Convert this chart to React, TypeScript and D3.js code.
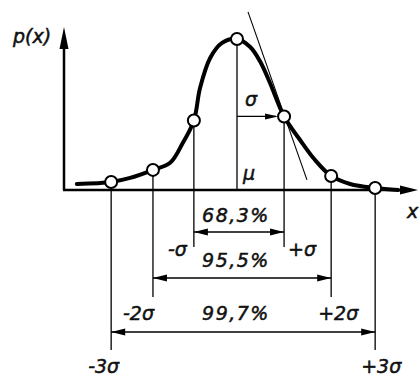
import * as d3 from "d3";

// curve samples (x in sigma units, y relative to peak)
const curveX = [-3.64, -2.86, -2.43, -1.91, -1.52, -1.23, -0.98, -0.84, -0.61, -0.34, 0, 0.3, 0.52, 0.75, 1.07, 1.43, 1.77, 2.14, 2.57, 3.14, 3.66];
const curveY = [0.04, 0.053, 0.08, 0.133, 0.18, 0.313, 0.46, 0.675, 0.874, 0.974, 1.0, 0.947, 0.854, 0.709, 0.487, 0.333, 0.2, 0.093, 0.04, 0.013, 0];

// marked points: -3σ .. +3σ
const pointX = [-2.86, -1.91, -0.98, 0, 1.07, 2.14, 3.14];
const pointY = [0.053, 0.133, 0.46, 1.0, 0.487, 0.093, 0.013];

const bandLabels = ["68,3%", "95,5%", "99,7%"];
const leftLabels = ["-σ", "-2σ", "-3σ"];
const rightLabels = ["+σ", "+2σ", "+3σ"];

// tangent at +σ (ends)
const tangentX = [0.25, 1.59];
const tangentY = [1.18, 0.067];

const W = 419;
const H = 378;
const axisX = 64;
const axisY = 190;
const font = "'DejaVu Sans', sans-serif";

const x = d3.scaleLinear().domain([-3, 3]).range([105, 369]);
const y = d3.scaleLinear().domain([0, 1]).range([axisY, 39]);

const arrowHead = (tx: number, ty: number, dir: "l" | "r" | "u", len = 14, hw = 3.5) => {
  if (dir === "r") return `${tx},${ty} ${tx - len},${ty - hw} ${tx - len},${ty + hw}`;
  if (dir === "l") return `${tx},${ty} ${tx + len},${ty - hw} ${tx + len},${ty + hw}`;
  return `${tx},${ty} ${tx - hw},${ty + len} ${tx + hw},${ty + len}`;
};

const Label = (p: { x: number; y: number; anchor?: string; spacing?: number; children: string }) => (
  <text
    x={p.x}
    y={p.y}
    textAnchor={p.anchor || "start"}
    fontFamily={font}
    fontStyle="italic"
    fontSize={19}
    letterSpacing={p.spacing || 0}
    fill="#111"
    stroke="#111"
    strokeWidth={0.5}
  >
    {p.children}
  </text>
);

export default function App() {
  const pts = curveX.map((v, i) => [x(v), y(curveY[i])] as [number, number]);
  const path = d3.line().curve(d3.curveCatmullRom.alpha(0.5))(pts) || "";

  const rows = [
    { y: 232, ext: 247, li: 2, ri: 4, labelY: 222 },
    { y: 278, ext: 297, li: 1, ri: 5, labelY: 267 },
    { y: 332, ext: 350, li: 0, ri: 6, labelY: 320 },
  ];

  const mx = x(0);
  const sx = x(pointX[4]);
  const sy = y(pointY[4]);

  return (
    <svg width={W} height={H} style={{ position: "absolute", left: 0, top: 0, background: "#fff" }}>
      {/* axes */}
      <line x1={axisX} y1={axisY} x2={axisX} y2={45} stroke="#000" strokeWidth={2.5} />
      <polygon points={arrowHead(axisX, 27, "u", 22, 4.5)} fill="#000" />
      <line x1={axisX - 1} y1={axisY} x2={405} y2={axisY} stroke="#000" strokeWidth={2.5} />
      <polygon points={arrowHead(418, axisY, "r", 18, 4.5)} fill="#000" />

      {/* extension lines */}
      <line x1={mx} y1={y(1)} x2={mx} y2={axisY} stroke="#000" strokeWidth={1.3} />
      {rows.map((r, i) => (
        <g key={"ext" + i}>
          <line x1={x(pointX[r.li])} y1={y(pointY[r.li])} x2={x(pointX[r.li])} y2={r.ext} stroke="#000" strokeWidth={1.3} />
          <line x1={x(pointX[r.ri])} y1={y(pointY[r.ri])} x2={x(pointX[r.ri])} y2={r.ext} stroke="#000" strokeWidth={1.3} />
        </g>
      ))}

      {/* tangent */}
      <line x1={x(tangentX[0])} y1={y(tangentY[0])} x2={x(tangentX[1])} y2={y(tangentY[1])} stroke="#000" strokeWidth={1.1} />

      {/* sigma arrow */}
      <line x1={mx} y1={sy} x2={sx - 8} y2={sy} stroke="#000" strokeWidth={1.3} />
      <polygon points={arrowHead(sx - 6, sy, "r", 13, 3)} fill="#000" />

      {/* curve */}
      <path d={path} fill="none" stroke="#000" strokeWidth={4} strokeLinejoin="round" strokeLinecap="round" />

      {/* dimension lines */}
      {rows.map((r, i) => {
        const x1 = x(pointX[r.li]);
        const x2 = x(pointX[r.ri]);
        return (
          <g key={"dim" + i}>
            <line x1={x1} y1={r.y} x2={x2} y2={r.y} stroke="#000" strokeWidth={1.3} />
            <polygon points={arrowHead(x1, r.y, "l")} fill="#000" />
            <polygon points={arrowHead(x2, r.y, "r")} fill="#000" />
            <Label x={mx - 1} y={r.labelY} anchor="middle" spacing={1.5}>
              {bandLabels[i]}
            </Label>
          </g>
        );
      })}

      {/* side labels */}
      <Label x={x(pointX[2]) - 7} y={256} anchor="end">{leftLabels[0]}</Label>
      <Label x={x(pointX[4]) + 4} y={256}>{rightLabels[0]}</Label>
      <Label x={x(pointX[1]) - 30} y={320}>{leftLabels[1]}</Label>
      <Label x={x(pointX[5]) - 13} y={320}>{rightLabels[1]}</Label>
      <Label x={x(pointX[0]) - 23} y={373}>{leftLabels[2]}</Label>
      <Label x={x(pointX[6]) - 14} y={373}>{rightLabels[2]}</Label>

      {/* points */}
      {pointX.map((v, i) => (
        <circle key={"p" + i} cx={x(v)} cy={y(pointY[i])} r={6} fill="#fff" stroke="#000" strokeWidth={2} />
      ))}

      {/* annotations */}
      <Label x={13} y={43}>p(x)</Label>
      <Label x={407} y={218}>x</Label>
      <Label x={mx + 6} y={180}>μ</Label>
      <Label x={mx + 8} y={106}>σ</Label>
    </svg>
  );
}
